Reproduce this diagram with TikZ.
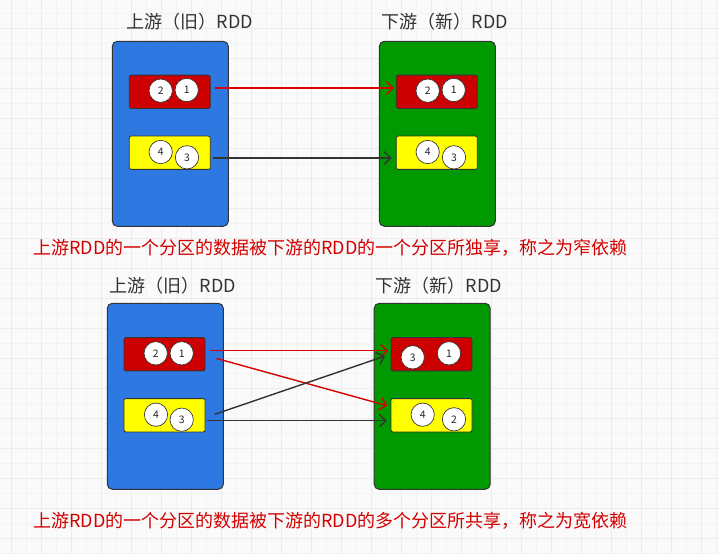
\documentclass[tikz,border=0pt]{standalone}
\usepackage{fontspec}
\setmainfont{Noto Sans CJK SC}
\usetikzlibrary{arrows.meta}
\definecolor{bgc}{HTML}{FAFAFA}
\definecolor{gridmin}{HTML}{F3F3F3}
\definecolor{gridmaj}{HTML}{ECECEC}
\definecolor{rddblue}{HTML}{2E78E2}
\definecolor{rddgreen}{HTML}{009900}
\definecolor{partred}{HTML}{CC0000}
\definecolor{partyellow}{HTML}{FFFF00}
\definecolor{edgec}{HTML}{333333}
\definecolor{titlec}{HTML}{333333}
\definecolor{captc}{HTML}{D40000}
\definecolor{arrred}{HTML}{D80000}
\definecolor{arrdark}{HTML}{333333}
\begin{document}
\begin{tikzpicture}[x=0.75pt,y=-0.75pt,
  rddbox/.style={draw=edgec,line width=0.75pt,rounded corners=3.75pt,minimum width=87pt,minimum height=138.75pt,inner sep=0pt},
  partbox/.style={draw=edgec,line width=0.6pt,rounded corners=1.5pt,minimum width=60.75pt,minimum height=25pt,inner sep=0pt},
  num/.style={circle,draw=edgec,line width=0.5pt,fill=white,minimum size=17.5pt,inner sep=0pt,text=black!85,font=\fontsize{7.8pt}{8pt}\selectfont},
  title/.style={inner sep=0pt,text=titlec,font=\fontsize{13.5pt}{15pt}\selectfont},
  caption/.style={inner sep=0pt,anchor=west,text=captc,font=\fontsize{13.5pt}{15pt}\selectfont},
  redarr/.style={draw=arrred,line width=1.05pt,-{Straight Barb[length=4.8pt,width=9.5pt]}},
  darkarr/.style={draw=arrdark,line width=1.05pt,-{Straight Barb[length=4.8pt,width=9.5pt]}}]
\useasboundingbox (0,0) rectangle (719,554);
\fill[bgc] (0,0) rectangle (719,554);
\foreach \x in {26.7,56.7,...,716.7} \draw[gridmin,line width=0.75pt] (\x,0) -- (\x,554);
\foreach \y in {13.3,43.3,...,553.3} \draw[gridmin,line width=0.75pt] (0,\y) -- (719,\y);
\foreach \x in {11.7,41.7,...,701.7} \draw[gridmaj,line width=0.9pt] (\x,0) -- (\x,554);
\foreach \y in {28.3,58.3,...,538.3} \draw[gridmaj,line width=0.9pt] (0,\y) -- (719,\y);

% ---------- top: narrow dependency ----------
\node[title] (t1) at (190,22) {上游（旧）RDD};
\node[title] (t2) at (445,22) {下游（新）RDD};
\node[rddbox,fill=rddblue] (up1) at (170.3,133.8) {};
\node[rddbox,fill=rddgreen] (dn1) at (437.3,133.8) {};
\node[partbox,fill=partred] (ur1) at (169.8,91.8) {};
\node[partbox,fill=partyellow] (uy1) at (169.8,152.7) {};
\node[partbox,fill=partred] (dr1) at (436.8,91.8) {};
\node[partbox,fill=partyellow] (dy1) at (436.8,152.7) {};
\node[num] (a2) at (160.7,90.7) {2};
\node[num] (a1) at (186.7,90) {1};
\node[num] (a4) at (160.7,152) {4};
\node[num] (a3) at (187,157.3) {3};
\node[num] (b2) at (427.7,90.7) {2};
\node[num] (b1) at (453.7,90) {1};
\node[num] (b4) at (427.7,152) {4};
\node[num] (b3) at (454,157.3) {3};
\draw[redarr] ([shift={(4,-3.8)}]ur1.east) -- ([shift={(-2,-3.8)}]dr1.west);
\draw[darkarr] ([shift={(2,5.3)}]uy1.east) -- ([shift={(-4.3,5.3)}]dy1.west);
\node[caption] (c1) at (33,248) {上游RDD的一个分区的数据被下游的RDD的一个分区所独享，称之为窄依赖};

% ---------- bottom: wide dependency ----------
\node[title] (t3) at (173,286) {上游（旧）RDD};
\node[title] (t4) at (439,286) {下游（新）RDD};
\node[rddbox,fill=rddblue,minimum height=139.5pt] (up2) at (165.3,396.3) {};
\node[rddbox,fill=rddgreen,minimum height=139.5pt] (dn2) at (432.2,396.3) {};
\node[partbox,fill=partred] (ur2) at (164.5,354.2) {};
\node[partbox,fill=partyellow] (uy2) at (164.5,415.3) {};
\node[partbox,fill=partred] (dr2) at (431.5,354.2) {};
\node[partbox,fill=partyellow] (dy2) at (431.5,415.3) {};
\node[num] (c2) at (155.7,353.3) {2};
\node[num] (cc1) at (181.7,353.3) {1};
\node[num] (c4) at (156,414.7) {4};
\node[num] (c3) at (181.7,419.7) {3};
\node[num] (d3) at (412.7,357.3) {3};
\node[num] (d1) at (449,353.3) {1};
\node[num] (d4) at (422.7,414.7) {4};
\node[num] (d2) at (454,419.3) {2};
\draw[redarr] ([shift={(4.3,-3.5)}]ur2.east) -- ([shift={(-2.4,-3.5)}]dr2.west);
\draw[redarr] ([shift={(11,4.2)}]ur2.east) -- ([shift={(-3.4,-9.6)}]dy2.west);
\draw[darkarr] ([shift={(9.3,-1)}]uy2.east) -- ([shift={(-5.7,1.9)}]dr2.west);
\draw[darkarr] ([shift={(1.6,5.4)}]uy2.east) -- ([shift={(-4,5.4)}]dy2.west);
\node[caption] (c5) at (33,521) {上游RDD的一个分区的数据被下游的RDD的多个分区所共享，称之为宽依赖};
\end{tikzpicture}
\end{document}
